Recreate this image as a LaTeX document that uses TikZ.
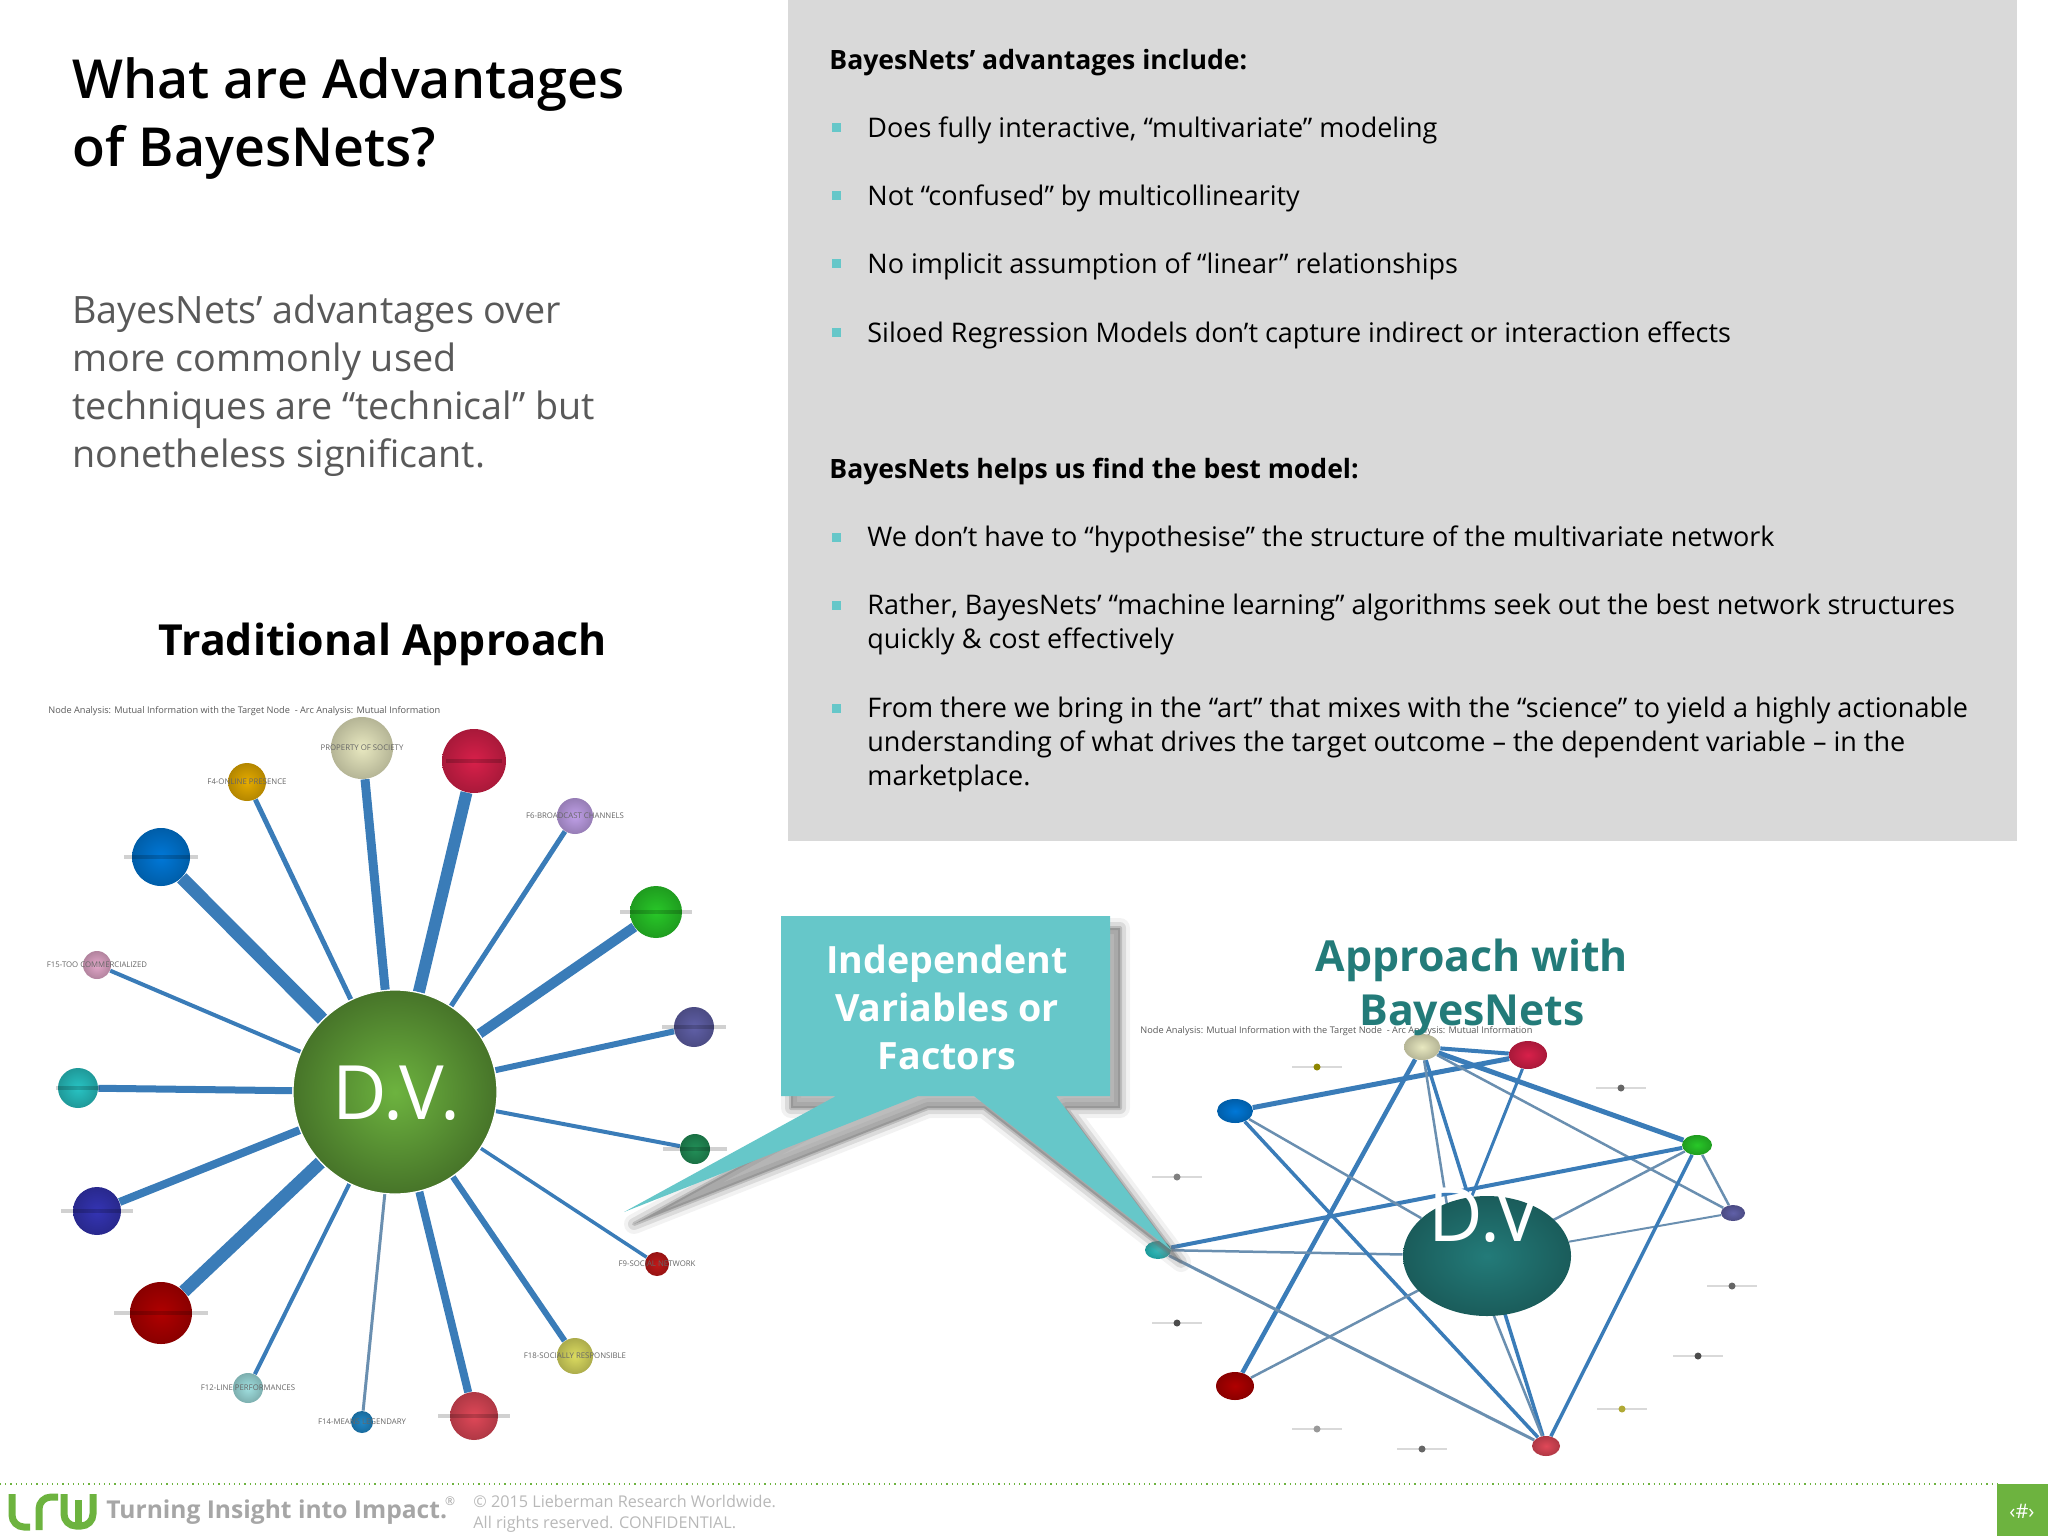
\documentclass[tikz,border=0pt]{standalone}
\usepackage{fontspec}
\setmainfont{Open Sans}
\newfontfamily\semibold{Open Sans Semibold}
\usetikzlibrary{shapes.geometric,backgrounds}
\definecolor{panelgray}{HTML}{D9D9D9}
\definecolor{calloutteal}{HTML}{66C7C9}
\definecolor{titleteal}{HTML}{237B79}
\definecolor{lrwgreen}{HTML}{6DB33F}
\definecolor{netblue}{HTML}{3A7CB8}
\definecolor{netthin}{HTML}{6A8FB0}
\definecolor{subgray}{HTML}{595959}
\definecolor{ballcream}{HTML}{E8E8C0}
\definecolor{ballcrimson}{HTML}{D8204A}
\definecolor{ballgold}{HTML}{E6AC00}
\definecolor{balllilac}{HTML}{C0A0E8}
\definecolor{ballazure}{HTML}{0078D8}
\definecolor{balllime}{HTML}{28C828}
\definecolor{ballpink}{HTML}{E4A8CA}
\definecolor{ballslate}{HTML}{6060A8}
\definecolor{ballaqua}{HTML}{28C4C4}
\definecolor{ballpine}{HTML}{229058}
\definecolor{ballindigo}{HTML}{3434B4}
\definecolor{ballruby}{HTML}{C01818}
\definecolor{ballmaroon}{HTML}{B00000}
\definecolor{ballcitron}{HTML}{DCDC60}
\definecolor{ballpale}{HTML}{A0E0E0}
\definecolor{ballsky}{HTML}{2088C8}
\definecolor{ballcoral}{HTML}{E04858}
\tikzset{
  netball/.style 2 args={circle,shading=radial,inner color=#2,outer color=#2!78!black,minimum size=#1*1pt,inner sep=0pt},
  flatball/.style n args={3}{ellipse,shading=radial,inner color=#3,outer color=#3!78!black,minimum width=#1*1pt,minimum height=#2*1pt,inner sep=0pt},
  netarc/.style={draw=netblue,line width=#1*0.5pt},
  thinarc/.style={draw=netthin,line width=#1*0.5pt},
  netlabel/.style={font=\fontsize{3.9}{4}\selectfont,text=black!60,inner sep=0pt},
  labelband/.style={rectangle,fill=black,opacity=.18,minimum width=#1*1pt,minimum height=2.4pt,inner sep=0pt},
  nethead/.style={font=\fontsize{4.6}{5}\selectfont,text=black!65,inner sep=0pt,anchor=base west},
  smalltick/.style={rectangle,fill=black!15,minimum width=25pt,minimum height=.6pt,inner sep=0pt,
    label={[circle,fill=#1,minimum size=3.5pt,inner sep=0pt]center:}},
  bulletbox/.style={rectangle,fill=calloutteal,minimum size=4.5pt,inner sep=0pt},
  bodytext/.style={font=\fontsize{13.5}{17}\selectfont,anchor=base west,inner sep=0pt,align=left},
  headtext/.style={font=\fontsize{13.3}{17}\selectfont\bfseries,anchor=base west,inner sep=0pt},
  boldtitle/.style={font=\fontsize{21.4}{26.8}\selectfont\bfseries,inner sep=0pt,anchor=base,align=center},
}
\def\calloutpath{(781,916) -- (1110,916) -- (1110,1096) -- (1056,1096) -- (1171,1250) -- (974,1096) -- (918,1096) -- (624,1212) -- (836,1096) -- (781,1096) -- cycle}
\begin{document}
\begin{tikzpicture}[x=0.5pt,y=-0.5pt]
  \useasboundingbox (0,0) rectangle (2048,1536);
  \fill[panelgray] (788,0) rectangle (2017,841);

  % heading and intro
  \node[font=\fontsize{26.9}{34}\selectfont\semibold,anchor=base west,inner sep=0pt,align=left] (title) at (72,166)
    {What are Advantages\\of BayesNets?};
  \node[font=\fontsize{18.85}{24}\selectfont,text=subgray,anchor=base west,inner sep=0pt,align=left] (intro) at (72,467)
    {BayesNets’ advantages over\\more commonly used\\techniques are “technical” but\\nonetheless significant.};

  % panel text
  \node[headtext] (head1) at (829,69) {BayesNets’ advantages include:};
  \node[bodytext] (item1) at (867,137) {Does fully interactive, “multivariate” modeling};
  \node[bodytext] (item2) at (867,205) {Not “confused” by multicollinearity};
  \node[bodytext] (item3) at (867,273) {No implicit assumption of “linear” relationships};
  \node[bodytext] (item4) at (867,342) {Siloed Regression Models don’t capture indirect or interaction effects};
  \node[headtext] (head2) at (829,478) {BayesNets helps us find the best model:};
  \node[bodytext] (item5) at (867,546) {We don’t have to “hypothesise” the structure of the multivariate network};
  \node[bodytext] (item6) at (867,648) {Rather, BayesNets’ “machine learning” algorithms seek out the best network structures\\quickly \& cost effectively};
  \node[bodytext] (item7) at (867,785) {From there we bring in the “art” that mixes with the “science” to yield a highly actionable\\understanding of what drives the target outcome – the dependent variable – in the\\marketplace.};
  \node[bulletbox] (mark1) at (836,127) {};
  \node[bulletbox] (mark2) at (836,195) {};
  \node[bulletbox] (mark3) at (836,263) {};
  \node[bulletbox] (mark4) at (836,332) {};
  \node[bulletbox] (mark5) at (836,537) {};
  \node[bulletbox] (mark6) at (836,605) {};
  \node[bulletbox] (mark7) at (836,708) {};

  % traditional approach
  \node[boldtitle] (tradtitle) at (383,655) {Traditional Approach};
  \node[nethead] (tradhead) at (48,713) {Node Analysis: Mutual Information with the Target Node \ - Arc Analysis: Mutual Information};
  \node[circle,draw=white,line width=.6pt,inner color=lrwgreen,outer color=black!35!lrwgreen,minimum size=102pt,inner sep=0pt] (dv) at (395,1092) {};
  \node[font=\fontsize{37.5}{40}\selectfont,text=white,inner sep=0pt] (dvtext) at (396,1093) {D.V.};
  \node[netball={31}{ballcream}] (cream) at (362,748) {};
  \node[netball={32}{ballcrimson}] (crimson) at (474,761) {};
  \node[netball={19}{ballgold}] (gold) at (247,782) {};
  \node[netball={18}{balllilac}] (lilac) at (575,816) {};
  \node[netball={29}{ballazure}] (azure) at (161,857) {};
  \node[netball={26}{balllime}] (lime) at (656,912) {};
  \node[netball={14}{ballpink}] (pink) at (97,965) {};
  \node[netball={20}{ballslate}] (slate) at (694,1027) {};
  \node[netball={20}{ballaqua}] (aqua) at (78,1088) {};
  \node[netball={15}{ballpine}] (pine) at (695,1149) {};
  \node[netball={24}{ballindigo}] (indigo) at (97,1211) {};
  \node[netball={12}{ballruby}] (ruby) at (657,1264) {};
  \node[netball={31}{ballmaroon}] (maroon) at (161,1313) {};
  \node[netball={18}{ballcitron}] (citron) at (575,1356) {};
  \node[netball={15}{ballpale}] (pale) at (248,1388) {};
  \node[netball={11}{ballsky}] (sky) at (362,1422) {};
  \node[netball={24}{ballcoral}] (coral) at (474,1416) {};
  \node[netlabel] at (cream) {PROPERTY OF SOCIETY};
  \node[netlabel] at (gold) {F4-ONLINE PRESENCE};
  \node[netlabel] at (lilac) {F6-BROADCAST CHANNELS};
  \node[netlabel] at (pink) {F15-TOO COMMERCIALIZED};
  \node[netlabel] at (ruby) {F9-SOCIAL NETWORK};
  \node[netlabel] at (citron) {F18-SOCIALLY RESPONSIBLE};
  \node[netlabel] at (pale) {F12-LINE PERFORMANCES};
  \node[netlabel] at (sky) {F14-MEANS LEGENDARY};
  \node[labelband=37] at (azure) {};
  \node[labelband=36] at (lime) {};
  \node[labelband=32] at (slate) {};
  \node[labelband=32] at (pine) {};
  \node[labelband=36] at (indigo) {};
  \node[labelband=47] at (maroon) {};
  \node[labelband=28] at (crimson) {};
  \node[labelband=22] at (aqua) {};
  \node[labelband=36] at (coral) {};
  \begin{scope}[on background layer]
    \draw[netarc=9] (dv) -- (cream);
    \draw[netarc=12] (dv) -- (crimson);
    \draw[netarc=5] (dv) -- (gold);
    \draw[netarc=5] (dv) -- (lilac);
    \draw[netarc=13] (dv) -- (azure);
    \draw[netarc=10] (dv) -- (lime);
    \draw[netarc=4] (dv) -- (pink);
    \draw[netarc=6] (dv) -- (slate);
    \draw[netarc=7] (dv) -- (aqua);
    \draw[netarc=4] (dv) -- (pine);
    \draw[netarc=8] (dv) -- (indigo);
    \draw[netarc=3.5] (dv) -- (ruby);
    \draw[netarc=13] (dv) -- (maroon);
    \draw[netarc=6] (dv) -- (citron);
    \draw[netarc=4] (dv) -- (pale);
    \draw[thinarc=3] (dv) -- (sky);
    \draw[netarc=8] (dv) -- (coral);
  \end{scope}

  % bayesnets approach
  \node[nethead] (bayeshead) at (1140,1033) {Node Analysis: Mutual Information with the Target Node \ - Arc Analysis: Mutual Information};
  \node[ellipse,inner color=titleteal,outer color=titleteal!75!black,minimum width=84pt,minimum height=60pt,inner sep=0pt] (bdv) at (1487,1256) {};
  \coordinate (hidcrimson) at (1448,1256);
  \coordinate (hidcream) at (1455,1256);
  \coordinate (hidcoral) at (1470,1256);
  \node[flatball={18}{13}{ballcream}] (bcream) at (1422,1047) {};
  \node[flatball={19}{14}{ballcrimson}] (bcrimson) at (1528,1055) {};
  \node[flatball={18}{12}{ballazure}] (bazure) at (1235,1111) {};
  \node[flatball={15}{10}{balllime}] (blime) at (1697,1145) {};
  \node[flatball={12}{8}{ballslate}] (bslate) at (1733,1213) {};
  \node[flatball={13}{9}{ballaqua}] (baqua) at (1158,1250) {};
  \node[flatball={19}{14}{ballmaroon}] (bmaroon) at (1235,1386) {};
  \node[flatball={14}{10}{ballcoral}] (bcoral) at (1546,1446) {};
  \node[smalltick=olive] (tick1) at (1317,1067) {};
  \node[smalltick=black!60] (tick2) at (1621,1088) {};
  \node[smalltick=black!50] (tick3) at (1177,1177) {};
  \node[smalltick=black!70] (tick4) at (1177,1323) {};
  \node[smalltick=black!60] (tick5) at (1732,1286) {};
  \node[smalltick=black!70] (tick6) at (1698,1356) {};
  \node[smalltick=olive!70] (tick7) at (1622,1409) {};
  \node[smalltick=black!40] (tick8) at (1317,1429) {};
  \node[smalltick=black!60] (tick9) at (1422,1449) {};
  \begin{scope}[on background layer]
    \draw[netarc=5] (bazure) -- (bcrimson);
    \draw[netarc=4] (bcream) -- (bcrimson);
    \draw[netarc=5] (bcream) -- (blime);
    \draw[netarc=4.5] (bcream) -- (bmaroon);
    \draw[netarc=3.5] (bcream) -- (bcoral);
    \draw[thinarc=2.5] (bcream) -- (bslate);
    \draw[thinarc=2.5] (bcream) -- (hidcream);
    \draw[netarc=3] (bcrimson) -- (hidcrimson);
    \draw[netarc=4] (baqua) -- (blime);
    \draw[thinarc=2.5] (baqua) -- (bdv);
    \draw[thinarc=2] (bdv) -- (bslate);
    \draw[thinarc=3] (baqua) -- (bcoral);
    \draw[thinarc=2.5] (bazure) -- (bdv);
    \draw[netarc=3.5] (bazure) -- (bcoral);
    \draw[thinarc=2.5] (bmaroon) -- (blime);
    \draw[thinarc=2.5] (hidcoral) -- (bcoral);
    \draw[netarc=3.5] (blime) -- (bcoral);
    \draw[thinarc=2.5] (blime) -- (bslate);
  \end{scope}
  \node[font=\fontsize{37.5}{40}\selectfont,text=white,anchor=base west,inner sep=0pt] (bdvtext) at (1428,1241) {D.V};
  \node[boldtitle,text=titleteal] (baytitle) at (1472,1025) {Approach with\\BayesNets};

  % callout
  \fill[black!50,opacity=.1,shift={(10,12)},draw=black!50,line join=round,line width=10pt] \calloutpath;
  \fill[black!50,opacity=.2,shift={(10,12)},draw=black!50,line join=round,line width=6pt] \calloutpath;
  \fill[black!55,opacity=.3,shift={(10,12)},draw=black!55,line join=round,line width=2pt] \calloutpath;
  \fill[calloutteal] \calloutpath;
  \node[boldtitle,text=white,font=\fontsize{18.8}{24}\selectfont\bfseries] (callout) at (947,1069) {Independent\\Variables or\\Factors};

  % footer
  \draw[lrwgreen,dotted,line width=.6pt] (0,1484) -- (1997,1484);
  \fill[lrwgreen] (1997,1484) rectangle (2048,1536);
  \node[font=\fontsize{10}{12}\selectfont,text=white,inner sep=0pt] (pagemark) at (2022,1511) {‹\#›};
  \draw[lrwgreen,line width=3.5pt,rounded corners=6pt] (12,1494) -- (12,1527) -- (30,1527);
  \draw[lrwgreen,line width=3.5pt,rounded corners=6pt] (39,1530) -- (39,1497) -- (58,1497);
  \draw[lrwgreen,line width=3.5pt,rounded corners=6pt] (64,1494) -- (64,1526) -- (93,1526) -- (93,1494);
  \draw[lrwgreen,line width=3.5pt] (78,1500) -- (78,1526);
  \node[font=\fontsize{12.3}{14}\selectfont\bfseries,text=black!35,anchor=base west,inner sep=0pt] (tagline) at (106,1518) {Turning Insight into Impact.};
  \node[font=\fontsize{6}{7}\selectfont,text=black!35,inner sep=0pt] (regmark) at (450,1501) {®};
  \node[font=\fontsize{8.1}{10.5}\selectfont,text=black!28,anchor=base west,inner sep=0pt,align=left] (copyright) at (473,1528) {© 2015 Lieberman Research Worldwide.\\All rights reserved. CONFIDENTIAL.};
\end{tikzpicture}
\end{document}
